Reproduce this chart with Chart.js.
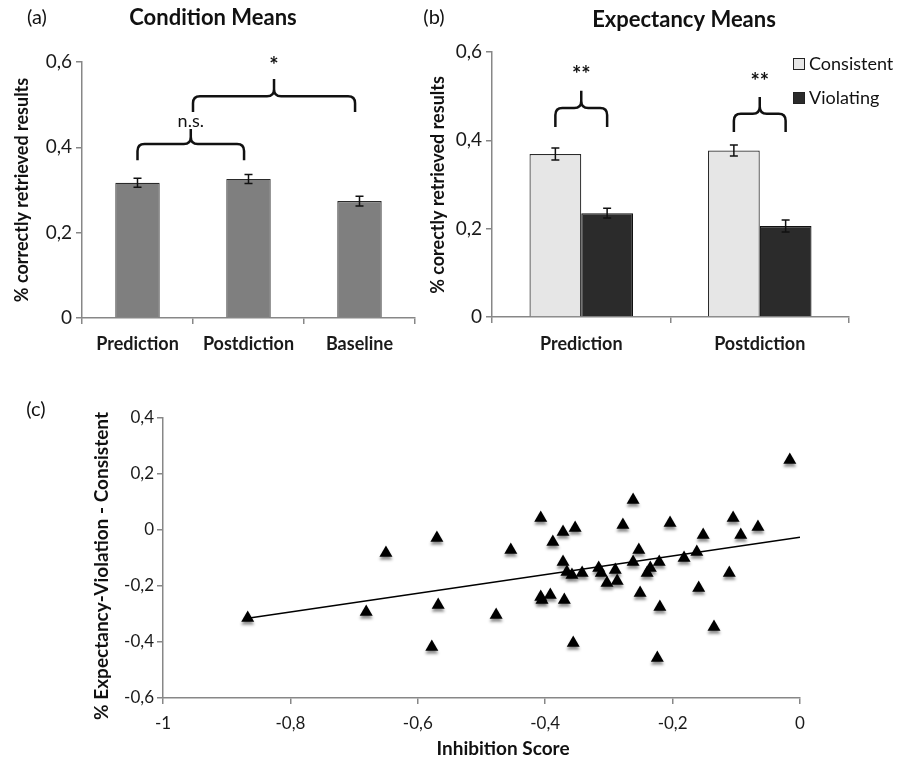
<!DOCTYPE html>
<html>
<head>
<meta charset="utf-8">
<script src="https://cdn.jsdelivr.net/npm/chart.js@4.4.1/dist/chart.umd.min.js"></script>
<style>
  html, body { margin: 0; padding: 0; background: #fff; }
  #page { position: relative; width: 907px; height: 759px; }
  .box { position: absolute; }
</style>
</head>
<body>
<div id="page">
  <div class="box" style="left:0;top:0"><canvas id="chartA" width="418" height="370"></canvas></div>
  <div class="box" style="left:418px;top:0"><canvas id="chartB" width="489" height="370"></canvas></div>
  <div class="box" style="left:0;top:370px"><canvas id="chartC" width="907" height="389"></canvas></div>
</div>
<script>
// (a) condition means
const condLabels = ["Prediction", "Postdiction", "Baseline"];
const condMeans = [0.317, 0.326, 0.274];
const condErr = [0.0105, 0.0105, 0.0115];

// (b) expectancy means
const expLabels = ["Prediction", "Postdiction"];
const consistentMeans = [0.369, 0.377];
const consistentErr = [0.0135, 0.0125];
const violatingMeans = [0.235, 0.206];
const violatingErr = [0.011, 0.0135];

// shared y ticks for (a) and (b)
const barTicks = [0, 0.2, 0.4, 0.6];

// (c) scatter: inhibition score vs. violation - consistent
const inhib = [-0.867, -0.681, -0.650, -0.570, -0.568, -0.578, -0.016, -0.262, -0.407, -0.353,
  -0.372, -0.278, -0.204, -0.105, -0.066, -0.093, -0.152, -0.454, -0.388, -0.253,
  -0.162, -0.182, -0.221, -0.262, -0.372, -0.366, -0.358, -0.342, -0.316, -0.312,
  -0.290, -0.235, -0.240, -0.303, -0.287, -0.111, -0.251, -0.159, -0.407, -0.392,
  -0.405, -0.370, -0.220, -0.477, -0.135, -0.356, -0.224];
const diff = [-0.314, -0.293, -0.082, -0.029, -0.268, -0.418, 0.250, 0.107, 0.043, 0.007,
  -0.007, 0.018, 0.025, 0.043, 0.011, -0.018, -0.018, -0.071, -0.043, -0.071,
  -0.079, -0.100, -0.114, -0.114, -0.114, -0.150, -0.161, -0.154, -0.136, -0.154,
  -0.143, -0.136, -0.154, -0.189, -0.182, -0.154, -0.225, -0.207, -0.239, -0.232,
  -0.250, -0.250, -0.275, -0.304, -0.346, -0.404, -0.457];
const trendX = [-0.867, 0];
const trendY = [-0.315, -0.026];

const FONT = 'Lato, "Open Sans", sans-serif';
Chart.defaults.font.family = FONT;
Chart.defaults.color = "#1a1a1a";

const axisGray = "#878787";

function comma(v) {
  if (Math.abs(v) < 1e-9) return "0";
  return String(Math.round(v * 10) / 10).replace(".", ",");
}

function axisStyle() {
  return {
    grid: { drawOnChartArea: false, drawTicks: true, tickLength: 6, color: axisGray, lineWidth: 1.5 },
    border: { color: axisGray, width: 1.5 }
  };
}

// free text: panel letters, titles, axis titles
const notesPlugin = {
  id: "notes",
  afterDraw(chart, args, opts) {
    const ctx = chart.ctx;
    (opts.items || []).forEach(t => {
      ctx.save();
      ctx.font = t.font;
      ctx.fillStyle = "#111";
      ctx.textAlign = "center";
      ctx.textBaseline = "middle";
      ctx.translate(t.x, t.y);
      if (t.rotate) ctx.rotate(t.rotate);
      ctx.fillText(t.text, 0, 0);
      ctx.restore();
    });
  }
};

// error bars from dataset.errors
const errorBarPlugin = {
  id: "errorBars",
  afterDatasetsDraw(chart) {
    const ctx = chart.ctx;
    const y = chart.scales.y;
    chart.data.datasets.forEach((ds, di) => {
      if (!ds.errors) return;
      chart.getDatasetMeta(di).data.forEach((bar, i) => {
        const top = y.getPixelForValue(ds.data[i] + ds.errors[i]);
        const bot = y.getPixelForValue(ds.data[i] - ds.errors[i]);
        ctx.save();
        ctx.strokeStyle = "#111";
        ctx.lineWidth = 1.5;
        ctx.beginPath();
        ctx.moveTo(bar.x, top); ctx.lineTo(bar.x, bot);
        ctx.moveTo(bar.x - 4, top); ctx.lineTo(bar.x + 4, top);
        ctx.moveTo(bar.x - 4, bot); ctx.lineTo(bar.x + 4, bot);
        ctx.stroke();
        ctx.restore();
      });
    });
  }
};

// significance braces; ends are category positions or [dataset, index] bars
const bracePlugin = {
  id: "braces",
  afterDatasetsDraw(chart, args, opts) {
    const ctx = chart.ctx;
    const { x, y } = chart.scales;
    const px = p => Array.isArray(p) ? chart.getDatasetMeta(p[0]).data[p[1]].x : x.getPixelForValue(p);
    (opts.items || []).forEach(b => {
      const x1 = px(b.from), x2 = px(b.to), xm = (x1 + x2) / 2;
      const yEnd = y.getPixelForValue(b.end);
      const yMid = y.getPixelForValue(b.mid);
      const yPeak = y.getPixelForValue(b.peak);
      const r = 7;
      ctx.save();
      ctx.strokeStyle = "#111";
      ctx.lineWidth = 2.5;
      ctx.lineJoin = "round";
      ctx.beginPath();
      ctx.moveTo(x1, yEnd);
      ctx.lineTo(x1, yMid + r);
      ctx.quadraticCurveTo(x1, yMid, x1 + r, yMid);
      ctx.lineTo(xm - r, yMid);
      ctx.quadraticCurveTo(xm, yMid, xm, yMid - r);
      ctx.lineTo(xm, yPeak);
      ctx.moveTo(xm, yMid - r);
      ctx.quadraticCurveTo(xm, yMid, xm + r, yMid);
      ctx.lineTo(x2 - r, yMid);
      ctx.quadraticCurveTo(x2, yMid, x2, yMid + r);
      ctx.lineTo(x2, yEnd);
      ctx.stroke();
      ctx.font = b.font;
      ctx.fillStyle = "#111";
      ctx.textAlign = "center";
      ctx.textBaseline = "middle";
      ctx.fillText(b.label, xm, y.getPixelForValue(b.labelAt));
      ctx.restore();
    });
  }
};

// square-box legend placed freely
const boxLegendPlugin = {
  id: "boxLegend",
  afterDraw(chart, args, opts) {
    if (!opts.x) return;
    const ctx = chart.ctx;
    chart.data.datasets.forEach((ds, i) => {
      const top = opts.y + i * opts.gap;
      ctx.save();
      ctx.fillStyle = ds.backgroundColor;
      ctx.strokeStyle = "#222";
      ctx.lineWidth = 1;
      ctx.fillRect(opts.x, top, 12, 12);
      ctx.strokeRect(opts.x + 0.5, top + 0.5, 11, 11);
      ctx.font = opts.font;
      ctx.fillStyle = "#111";
      ctx.textAlign = "left";
      ctx.textBaseline = "middle";
      ctx.fillText(ds.label, opts.x + 16, top + 6);
      ctx.restore();
    });
  }
};

// soft drop shadow under the scatter markers
const shadowPlugin = {
  id: "markerShadow",
  beforeDatasetDraw(chart, args) {
    if (!chart.data.datasets[args.index].shadow) return;
    const ctx = chart.ctx;
    ctx.save();
    ctx.shadowColor = "rgba(0,0,0,0.45)";
    ctx.shadowBlur = 3;
    ctx.shadowOffsetY = 3;
  },
  afterDatasetDraw(chart, args) {
    if (!chart.data.datasets[args.index].shadow) return;
    chart.ctx.restore();
  }
};

const plugins = [notesPlugin, errorBarPlugin, bracePlugin, boxLegendPlugin, shadowPlugin];

function barYAxis() {
  return Object.assign(axisStyle(), {
    min: 0, max: 0.6,
    afterBuildTicks(scale) { scale.ticks = barTicks.map(v => ({ value: v })); },
    ticks: { callback: comma, font: { size: 19 }, padding: 4 }
  });
}

// ---------- (a)
new Chart(document.getElementById("chartA"), {
  type: "bar",
  data: {
    labels: condLabels,
    datasets: [{
      label: "Condition",
      data: condMeans,
      errors: condErr,
      backgroundColor: "#7f7f7f",
      borderColor: "#2a2a2a",
      borderWidth: 1.2,
      categoryPercentage: 1,
      barPercentage: 0.4
    }]
  },
  options: {
    responsive: false,
    animation: false,
    layout: { padding: { top: 62, right: 3, left: 0, bottom: 0 } },
    scales: {
      x: Object.assign(axisStyle(), {
        afterFit(scale) { scale.height = 52; },
        ticks: { font: { size: 18, weight: "bold" }, padding: 9 }
      }),
      y: Object.assign(barYAxis(), { afterFit(scale) { scale.width = 82; } })
    },
    plugins: {
      legend: { display: false },
      tooltip: { enabled: false },
      braces: {
        items: [
          { from: 0, to: 0.96, end: 0.370, mid: 0.408, peak: 0.443, label: "n.s.", labelAt: 0.462, font: "18px " + FONT },
          { from: 0.5, to: 1.96, end: 0.483, mid: 0.520, peak: 0.560, label: "*", labelAt: 0.592, font: "bold 22px " + FONT }
        ]
      },
      notes: {
        items: [
          { text: "(a)", x: 37, y: 18, font: "20px " + FONT },
          { text: "Condition Means", x: 213, y: 18, font: "bold 22px " + FONT },
          { text: "% correctly retrieved results", x: 22, y: 190, rotate: -Math.PI / 2, font: "bold 18px " + FONT }
        ]
      }
    }
  },
  plugins
});

// ---------- (b)
new Chart(document.getElementById("chartB"), {
  type: "bar",
  data: {
    labels: expLabels,
    datasets: [
      {
        label: "Consistent",
        data: consistentMeans,
        errors: consistentErr,
        backgroundColor: "#e6e6e6",
        borderColor: "#2a2a2a",
        borderWidth: 1.2,
        categoryPercentage: 0.58,
        barPercentage: 1
      },
      {
        label: "Violating",
        data: violatingMeans,
        errors: violatingErr,
        backgroundColor: "#2b2b2b",
        borderColor: "#111",
        borderWidth: 1.2,
        categoryPercentage: 0.58,
        barPercentage: 1
      }
    ]
  },
  options: {
    responsive: false,
    animation: false,
    layout: { padding: { top: 52, right: 58, left: 0, bottom: 0 } },
    scales: {
      x: Object.assign(axisStyle(), {
        afterFit(scale) { scale.height = 53; },
        ticks: { font: { size: 18, weight: "bold" }, padding: 10 }
      }),
      y: Object.assign(barYAxis(), { afterFit(scale) { scale.width = 74; } })
    },
    plugins: {
      legend: { display: false },
      tooltip: { enabled: false },
      braces: {
        items: [
          { from: [0, 0], to: [1, 0], end: 0.430, mid: 0.473, peak: 0.512, label: "**", labelAt: 0.548, font: "bold 22px " + FONT },
          { from: [0, 1], to: [1, 1], end: 0.419, mid: 0.460, peak: 0.498, label: "**", labelAt: 0.533, font: "bold 22px " + FONT }
        ]
      },
      boxLegend: { x: 375, y: 58, gap: 34, font: "18px " + FONT },
      notes: {
        items: [
          { text: "(b)", x: 16, y: 18, font: "20px " + FONT },
          { text: "Expectancy Means", x: 266, y: 20, font: "bold 22px " + FONT },
          { text: "% corectly retrieved results", x: 20, y: 185, rotate: -Math.PI / 2, font: "bold 18px " + FONT }
        ]
      }
    }
  },
  plugins
});

// ---------- (c)
new Chart(document.getElementById("chartC"), {
  type: "scatter",
  data: {
    datasets: [
      {
        label: "Participants",
        data: inhib.map((v, i) => ({ x: v, y: diff[i] })),
        pointStyle: "triangle",
        pointRadius: 7.5,
        backgroundColor: "#000",
        borderColor: "#000",
        borderWidth: 0,
        shadow: true,
        order: 1
      },
      {
        label: "Trend",
        data: trendX.map((v, i) => ({ x: v, y: trendY[i] })),
        showLine: true,
        pointRadius: 0,
        borderColor: "#000",
        borderWidth: 1.5,
        order: 2
      }
    ]
  },
  options: {
    responsive: false,
    animation: false,
    layout: { padding: { top: 48, right: 107, left: 0, bottom: 0 } },
    scales: {
      x: Object.assign(axisStyle(), {
        min: -1, max: 0,
        afterFit(scale) { scale.height = 61; },
        ticks: { stepSize: 0.2, callback: comma, font: { size: 17 }, padding: 9 }
      }),
      y: Object.assign(axisStyle(), {
        min: -0.6, max: 0.4,
        afterFit(scale) { scale.width = 163; },
        ticks: { stepSize: 0.2, callback: comma, font: { size: 17 }, padding: 3 }
      })
    },
    plugins: {
      legend: { display: false },
      tooltip: { enabled: false },
      notes: {
        items: [
          { text: "(c)", x: 36, y: 40, font: "20px " + FONT },
          { text: "% Expectancy-Violation - Consistent", x: 102, y: 196, rotate: -Math.PI / 2, font: "bold 19px " + FONT },
          { text: "Inhibition Score", x: 503, y: 379, font: "bold 19px " + FONT }
        ]
      }
    }
  },
  plugins
});
</script>
</body>
</html>
